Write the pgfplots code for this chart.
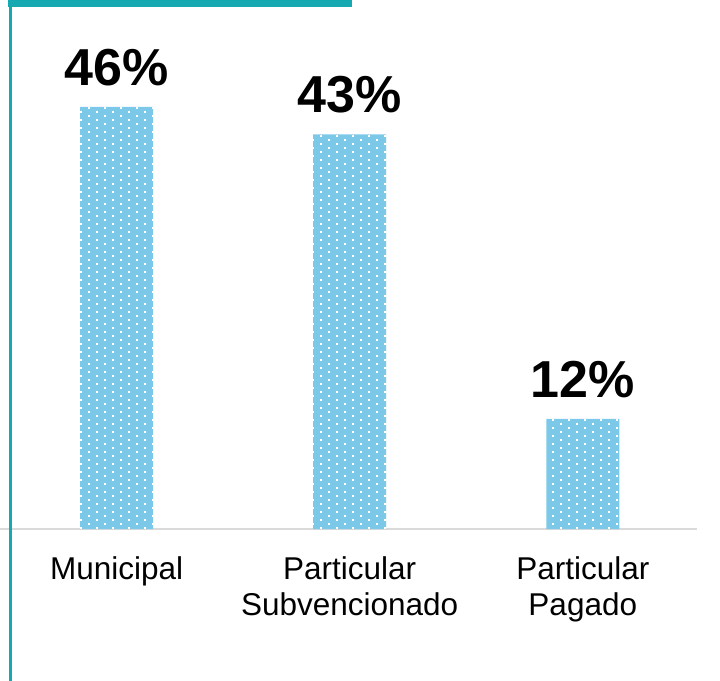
\documentclass[border=0pt]{standalone}
\usepackage{pgfplots}
\pgfplotsset{compat=1.18}
\usepackage{fontspec}
\setmainfont{Liberation Sans}
\usetikzlibrary{patterns}
\definecolor{barblue}{RGB}{124,200,232}
\definecolor{teal1}{RGB}{23,169,177}
\definecolor{basegrey}{RGB}{218,218,218}
\pgfdeclarepatternformonly{bardots}{\pgfpoint{-1bp}{-1bp}}{\pgfpoint{17bp}{9bp}}{\pgfpoint{16bp}{8bp}}{%
  \pgfpathrectangle{\pgfpoint{0bp}{0bp}}{\pgfpoint{1.9bp}{1.9bp}}%
  \pgfpathrectangle{\pgfpoint{8bp}{4bp}}{\pgfpoint{1.9bp}{1.9bp}}%
  \pgfusepath{fill}}
\begin{document}
\begin{tikzpicture}
\useasboundingbox (0,-152bp) rectangle (720bp,529bp);
\begin{axis}[
  at={(0,0)}, anchor=south west,
  scale only axis, width=697bp, height=529bp,
  xmin=-0.5, xmax=2.49, ymin=0, ymax=57.66,
  axis x line=bottom, axis y line=none,
  x axis line style={draw=basegrey, line width=1.5bp, -},
  xtick={0,1,2}, major tick length=0pt,
  xticklabels={Municipal, Particular\\Subvencionado, Particular\\Pagado},
  xticklabel style={font=\fontsize{31.5bp}{36bp}\selectfont, align=center, anchor=north, inner sep=0pt, yshift=-27bp},
  ybar, bar width=73bp,
  clip=false,
  /pgf/number format/assume math mode=true,
  nodes near coords={\pgfmathprintnumber{\pgfplotspointmeta}\%},
  every node near coord/.append style={font=\fontsize{52bp}{52bp}\bfseries\selectfont, inner sep=0pt, yshift=21bp, text=black},
]
\addplot[fill=barblue, draw=none, postaction={pattern=bardots, pattern color=white}] coordinates {(0,46) (1,43) (2,12)};
\end{axis}
\fill[teal1] (8bp,529bp) rectangle (352bp,522bp);
\fill[teal1] (9bp,522bp) rectangle (11.5bp,-152bp);
\end{tikzpicture}
\end{document}
